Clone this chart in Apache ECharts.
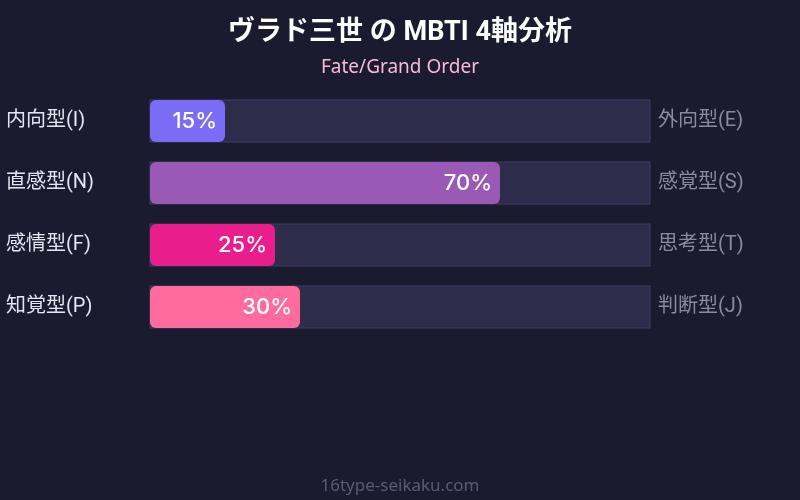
<!DOCTYPE html>
<html>
<head>
<meta charset="utf-8">
<script src="https://cdn.jsdelivr.net/npm/echarts@6/dist/echarts.min.js"></script>
<style>
  html, body { margin: 0; padding: 0; background: #1a1b2e; }
  #chart { width: 800px; height: 500px; }
</style>
</head>
<body>
<div id="chart"></div>
<script>
const leftLabels = ["内向型(I)", "直感型(N)", "感情型(F)", "知覚型(P)"];
const rightLabels = ["外向型(E)", "感覚型(S)", "思考型(T)", "判断型(J)"];
const scores = [15, 70, 25, 30];
const barColors = ["#7b6cf6", "#9b59b6", "#e91e8c", "#ff6b9d"];

const font = "Roboto, 'Noto Sans CJK JP', sans-serif";
const chart = echarts.init(document.getElementById("chart"));

chart.setOption({
  backgroundColor: "#1a1b2e",
  animation: false,
  title: [
    {
      text: "ヴラド三世 の MBTI 4軸分析",
      left: "center",
      top: 15,
      textStyle: { color: "#ffffff", fontSize: 27, fontWeight: "bold", fontFamily: font }
    },
    {
      text: "Fate/Grand Order",
      left: "center",
      top: 53,
      textStyle: { color: "#f8bbd9", fontSize: 19, fontWeight: "normal", fontFamily: "'Noto Sans', sans-serif" }
    },
    {
      text: "16type-seikaku.com",
      left: "center",
      top: 473,
      textStyle: { color: "#5a5a78", fontSize: 17, fontWeight: "normal", fontFamily: "'Noto Sans', sans-serif" }
    }
  ],
  grid: { left: 150, right: 150, top: 90, height: 248 },
  xAxis: { type: "value", min: 0, max: 100, show: false },
  yAxis: [
    {
      type: "category",
      data: leftLabels,
      inverse: true,
      position: "left",
      axisLine: { show: false },
      axisTick: { show: false },
      axisLabel: { color: "#e4e4f2", fontSize: 20, align: "left", margin: 144, fontFamily: font, padding: [0, 0, 4, 0] }
    },
    {
      type: "category",
      data: rightLabels,
      inverse: true,
      position: "right",
      axisLine: { show: false },
      axisTick: { show: false },
      axisLabel: { color: "#8a8aa2", fontSize: 20, align: "left", margin: 8, fontFamily: font, padding: [0, 0, 4, 0] }
    }
  ],
  series: [
    {
      type: "bar",
      yAxisIndex: 0,
      barWidth: 42,
      data: scores.map((v, i) => ({ value: v, itemStyle: { color: barColors[i] } })),
      itemStyle: { borderRadius: 6 },
      showBackground: true,
      backgroundStyle: { color: "#2d2c4a", borderColor: "#403e62", borderWidth: 1 },
      label: {
        show: true,
        position: "insideRight",
        distance: 8,
        formatter: "{c}%",
        color: "#ffffff",
        fontSize: 22,
        fontWeight: 500,
        fontFamily: "Inter, sans-serif"
      }
    }
  ]
});
</script>
</body>
</html>
